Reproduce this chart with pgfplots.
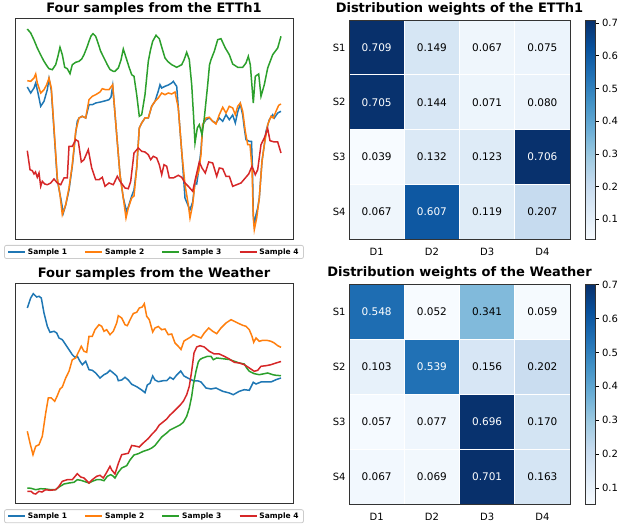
\documentclass[border=0pt]{standalone}
\usepackage{pgfplots}
\pgfplotsset{compat=1.18}
\usepackage{fontspec}
\setmainfont{DejaVu Sans}
\definecolor{c1}{HTML}{1F77B4}
\definecolor{c2}{HTML}{FF7F0E}
\definecolor{c3}{HTML}{2CA02C}
\definecolor{c4}{HTML}{D62728}
\pgfplotsset{
  colormap={Blues}{rgb255(0)=(247,251,255) rgb255(1)=(222,235,247) rgb255(2)=(198,219,239) rgb255(3)=(158,202,225) rgb255(4)=(107,174,214) rgb255(5)=(66,146,198) rgb255(6)=(33,113,181) rgb255(7)=(8,81,156) rgb255(8)=(8,48,107)},
  lineax/.style={scale only axis, width=278pt, xmin=15, xmax=293, y dir=reverse,
    xtick=\empty, ytick=\empty, axis line style={black!80, line width=0.8pt},
    title style={font=\fontsize{13}{15}\selectfont\bfseries, anchor=base, at={(0.5,1)}, yshift=-0.7pt},
    legend columns=4,
    legend style={at={(0.5,-0.027)}, anchor=north, draw=black!20, line width=0.8pt, rounded corners=2pt,
      font=\fontsize{7.5}{9}\selectfont\bfseries, inner xsep=3pt, inner ysep=1pt,
      /tikz/every even column/.append style={column sep=15.5pt}},
    legend image code/.code={\draw[##1, line width=1.5pt] (0pt,0pt) -- (17pt,0pt);},
    every axis plot/.append style={line width=1.5pt, mark=none}},
  heatax/.style={scale only axis, width=221pt, xmin=-0.5, xmax=3.5, ymin=-0.5, ymax=3.5, y dir=reverse,
    xtick={0,1,2,3}, xticklabels={D1,D2,D3,D4}, ytick={0,1,2,3}, yticklabels={S1,S2,S3,S4},
    major tick length=0pt, tick label style={font=\fontsize{10}{12}\selectfont},
    xticklabel style={yshift=-5pt},
    axis line style={black!80, line width=0.8pt}, axis on top,
    colormap name=Blues, colorbar,
    colorbar style={at={(parent axis.north east)}, anchor=north west, xshift=6.5pt, width=10pt,
      ytick={0.1,0.2,0.3,0.4,0.5,0.6,0.7}, ytick pos=right, tick align=outside, major tick length=3.5pt,
      tick style={black, line width=0.6pt}, axis line style={black!80, line width=0.8pt},
      yticklabel style={font=\fontsize{10}{12}\selectfont, /pgf/number format/.cd, fixed, fixed zerofill, precision=1, assume math mode=true}},
    title style={font=\fontsize{13}{15}\selectfont\bfseries, anchor=base, at={(0.5,1)}, yshift=1.3pt}},
  darktxt/.style={draw=none, mark=none, nodes near coords, point meta=explicit symbolic,
    every node near coord/.style={anchor=center, font=\fontsize{10.5}{12}\selectfont, text=black}},
  lighttxt/.style={darktxt, every node near coord/.style={anchor=center, font=\fontsize{10.5}{12}\selectfont, text=white}}
}
\begin{document}
\begin{tikzpicture}
\useasboundingbox (0,0) rectangle (622pt,529pt);
% ---------------- ETTh1 samples
\begin{axis}[lineax, at={(15pt,290pt)}, anchor=south west, height=220.7pt, ymin=18.3, ymax=239,
  title={Four samples from the ETTh1}]
\addplot[c1] coordinates {(27.3,87) (30.7,93) (34,88) (35.7,83) (38,93) (40.7,106.3) (44,101.3) (47.3,89.7) (49,78.7) (51.3,90) (54,130) (57.3,180) (60.7,198) (63.3,213) (65.7,205) (69,190) (72.3,166) (75.7,133) (77.3,121.3) (79,118) (82.3,116.3) (85.7,118) (89,104.7) (92.3,104.7) (95.7,103) (100.7,102) (105.7,100.7) (109,99.7) (111,97) (112.7,86) (116.7,134.7) (120,174.7) (123.3,198) (126.5,211) (128.3,207) (131.7,196) (134,190) (136.7,168) (139.3,128) (141.7,123) (145,118) (148.3,118) (151.7,106.3) (155,101.3) (158.3,91) (160,84.7) (161.7,88) (165,86.3) (168.3,85) (171.7,83) (173.3,81.3) (175,84) (176.7,86.3) (178.3,108) (181.7,151.3) (185,198) (188.3,206) (190,209.7) (192.7,202) (195,183) (196.7,184) (198.7,170) (201,150) (202.7,124.7) (206,119.7) (209.3,118) (212.7,121.3) (216,123) (219.3,118) (222.7,121.3) (226,114.7) (229.3,119.7) (232.7,115) (235.3,123) (237.7,112) (240.3,104) (242.7,115) (244.3,128) (246,139.7) (249.3,141.3) (251.5,141.3) (252.5,170) (253.3,214.7) (254.3,224.7) (256,214.7) (257.7,208) (259.3,198) (262,161.3) (264.3,145) (266,131.3) (269.3,119.7) (272.7,114.7) (274.3,118) (277.7,113) (281,111.3)};
\addlegendentry{Sample 1}
\addplot[c2] coordinates {(27.3,80.7) (30.7,81.3) (34,78) (35.7,74) (37.3,83) (40.7,93) (44,89.7) (46.7,84.7) (49,78) (51.3,88) (54,128) (57.3,178) (60,194.7) (62.3,214.7) (65.7,204.7) (69,188) (72.3,164.7) (75.7,131.3) (79,118) (82.3,116.3) (85.7,118) (89,99.7) (92.3,96.3) (95.7,94.7) (100,92) (102.3,88.7) (105.7,89.7) (109,89.7) (112.7,84.7) (116.7,134.7) (120,174.7) (123.3,198) (126,218) (128.3,208) (131.7,198) (134,196) (136.7,168) (139.3,128) (141.7,123) (145,118) (148.3,118) (151.7,106.3) (155,101.3) (158.3,98) (161.7,93) (165,94.7) (168.3,93) (171.7,94) (175,92) (178.3,108) (181.7,151.3) (185,184.7) (188.3,204.7) (190,218) (192.7,204.7) (195,181.3) (198.7,171.3) (201,154.7) (202.7,124.7) (206,118) (209.3,117.3) (212.7,121.3) (216,124) (219.3,114.7) (222.7,107.3) (226,113) (229.3,106.3) (232.7,108) (235.3,114.7) (237.7,106.3) (240.3,103) (242.7,111.3) (245.3,131.3) (247.7,144.7) (250,144.7) (252,168) (253.3,218) (254.3,229.7) (256.7,218) (259.3,198) (262,161.3) (264.3,144.7) (267.7,124.7) (271,116.3) (273.3,118) (276,111.3) (278.7,105.3) (281,104)};
\addlegendentry{Sample 2}
\addplot[c3] coordinates {(27.3,29) (30.7,33) (34,40) (37.3,48) (40.7,55) (44,61.3) (47,66) (49,68.7) (52.3,69.7) (55.7,64.7) (58,56) (60,47.3) (62.3,54.7) (64.7,67.3) (67.3,68.7) (70,73.7) (72.3,64.7) (75.7,62.3) (79,61.3) (81.7,59) (84,54.7) (86.7,48) (89,41.3) (91,36) (93,33.7) (95.7,36.3) (98,43) (100.7,51.3) (104,58) (107.3,64.7) (110,69.5) (113.3,71.3) (115,71.3) (118.3,68) (121,60) (123.3,49) (126.7,59.7) (129,67) (131.7,74.7) (134,76.3) (136.7,94.7) (139.3,116.3) (141.7,114.7) (145,94.7) (148.3,61.3) (150.5,50) (152.7,41.3) (156,35.3) (159.3,38.7) (162,48) (165,58) (168,61.7) (171.7,64.7) (176.7,67.3) (181.7,64.7) (184,60) (186.7,52.3) (189.3,59.7) (191.7,84.7) (193.5,115) (195,143) (197.3,128) (199.3,124.7) (202,134.7) (204.3,118) (207.7,84.7) (209.5,65) (211,59.7) (214.3,51.3) (217.7,39.7) (221,38.7) (225.3,48) (229.3,54.7) (232.7,64) (237.7,67.3) (242.7,67.3) (246,63) (248.3,56.3) (250.3,64.7) (253.3,103) (255.3,76.3) (258.7,74) (261,96.3) (264.3,84.7) (267.7,68) (272.7,54.7) (277.7,48) (281,36.3)};
\addlegendentry{Sample 3}
\addplot[c4] coordinates {(27.3,150.7) (30,169.7) (32.3,170.7) (34,174) (35.5,172) (37.3,177.3) (39,173) (40.7,186.3) (42.3,181.3) (44.7,184) (47.3,184.7) (50.7,183) (54,179) (57.3,183) (60.7,184.7) (64,178) (67.3,178) (69,146.3) (72.3,146.3) (75.7,139.7) (78.3,141.3) (81.3,162) (84,159.7) (88.3,149.7) (91.7,168) (95.7,179.7) (99,179.7) (102.3,177.3) (105,186.3) (109,183) (113.3,184.7) (117.3,176.3) (120,181.3) (125,188) (128.3,188.7) (130.7,181.3) (134,153) (138.3,148) (141.7,151.3) (145,152) (148.3,154.7) (150.7,159.7) (153.3,156.3) (156.7,158) (159.3,164.7) (161.7,174.7) (164,164.7) (166.7,166.3) (169.3,178) (173.3,178) (178.3,175.3) (181.7,177.3) (185,183) (188.3,186.3) (192.7,191.3) (196,176.3) (199.3,162) (202,168) (205.3,173) (208.7,162) (212.7,163) (216.7,176.3) (219.3,168) (222.7,168.7) (226,176.3) (229.3,176.3) (232.7,186.3) (236.7,184.7) (241,183) (245.3,178) (248.7,174) (252,166.3) (255.3,174.7) (257.7,169.7) (261,144.7) (264.3,138) (267.7,128.7) (270,140.7) (274.3,142) (277.7,142) (281,153)};
\addlegendentry{Sample 4}
\end{axis}
% ---------------- Weather samples
\begin{axis}[lineax, at={(15pt,25.7pt)}, anchor=south west, height=220pt, ymin=283.3, ymax=503.3,
  title={Four samples from the Weather}]
\addplot[c1] coordinates {(27.3,308) (30.7,298) (33.3,293.7) (36.7,297) (39,296.3) (41.3,298) (44,313) (47.3,326.3) (50,332.3) (54,331.3) (56.7,333) (59,338) (62.3,339.7) (65.7,344.7) (69,349.7) (72.3,354.7) (74.7,357) (77.3,356.3) (80,361.3) (82.3,364.7) (85.7,361.3) (89,369.7) (92.3,370.3) (95.7,373) (100,378) (104,374.7) (107.3,373) (110,370.3) (113.3,373) (116.7,376) (118.3,380.7) (121.7,380) (125,377.3) (128.3,380) (131.7,384.3) (136.7,386.7) (141.7,390) (145,392.7) (147.3,385) (150,383.3) (152.7,376) (155,380) (158.3,381.7) (163.3,380.7) (166.7,380.7) (170,377.3) (173.3,379.3) (176.7,375) (180.7,371) (184,376) (188.3,378.3) (193.3,380.7) (198.3,381) (201,382) (206,388) (211,389) (216,388) (222.7,391.3) (229.3,393) (233.3,394.7) (239.3,391.3) (244.3,389.7) (249.3,390.3) (253.3,382.3) (256,384) (261,382) (266,382) (271,382) (276,379.7) (281,378)};
\addlegendentry{Sample 1}
\addplot[c2] coordinates {(27.3,431.3) (30,443) (33,454.7) (35.7,446.3) (39,444.7) (42.3,436.3) (45.7,413) (48.3,398) (51.3,398) (54.7,401.3) (57.3,395.7) (60,389) (62.3,387) (65.7,378) (69,371.3) (72.3,359.7) (75.7,358) (78,353) (81.3,346.3) (84,351.3) (86.7,352.3) (89,336.3) (92.3,336.3) (95,329.7) (99,324.7) (101.7,326.3) (104,331.3) (106.7,329.7) (110,334.7) (113.3,331.3) (116.7,323) (118.3,315.7) (121.7,318) (125,324.7) (127.3,325.7) (130,320) (133.3,313.5) (136.7,312.3) (139.3,308) (142.3,307) (144.3,303.7) (146.7,316.3) (149.3,319.7) (152.7,332) (155,328) (158.3,326.5) (161.7,329.7) (165,329) (168.3,334.7) (171.7,334) (175,343) (178.3,346.3) (181,349.5) (184,341) (187.3,339) (190.7,337) (193.3,334.7) (196.7,336.3) (201,338) (204.3,333) (208.7,328) (212.7,331.3) (216.7,333.7) (221,328) (226,323) (231,319.7) (234.3,321.3) (237.7,323) (242.7,325.3) (246,326.3) (249.3,329.7) (252,336.3) (253.7,342.3) (256,338) (259.3,341.3) (262.7,340.3) (266.7,340.3) (271,341.3) (274.3,343) (277.7,345.7) (281,347.3)};
\addlegendentry{Sample 2}
\addplot[c3] coordinates {(27.3,488) (31,488.3) (35.7,489.7) (40.7,488.7) (45.7,489) (50.7,489.7) (55.7,489.7) (59,487) (64,484) (69,483) (74,482.3) (77.3,479.7) (80.7,480.3) (84,481.3) (89,483) (92.3,481.3) (96.7,479.7) (100.7,479.7) (104,480.7) (107.3,476.3) (110.7,474.7) (113,476) (115,478) (118.3,472.3) (121.7,468) (126.7,465.7) (130,460) (134,455) (138.3,453.7) (143.3,451.3) (148.3,449.7) (151.7,448) (155,445.5) (158.3,441.3) (161.7,437) (166.7,433) (170,430) (175,427.5) (180,425) (183.3,422.3) (186.7,416.3) (189.3,408) (191.7,396.3) (193.3,385) (196,371.3) (198.3,362) (200,359.5) (202.7,358) (207.7,356.3) (211,356.3) (213.3,359.7) (216.7,358) (222.7,358.7) (229.3,359.5) (234.3,361.3) (239.3,363) (244.3,364) (246.7,368) (249.3,371.3) (254.3,373.7) (259.3,374.7) (264.3,373.7) (267.7,373) (272.7,374.7) (276,375.3) (281,375.7)};
\addlegendentry{Sample 3}
\addplot[c4] coordinates {(27.3,491.3) (31,491.3) (33.5,493.5) (35.7,494) (39,491.3) (42,492) (45.7,489.7) (50,490.3) (55.7,489.7) (59,486.3) (62.3,481.3) (67.3,479.7) (72.3,479.7) (77.3,473.7) (80.7,477) (84,478) (89,483) (92.3,479.7) (96.7,476.3) (100,475.3) (103.3,478) (106.7,472.3) (110,466.3) (111.7,470) (115,474) (118.3,463.5) (121.7,454.7) (125,454) (128.3,453.3) (131.7,445.5) (135,446) (139.3,447) (143.3,443) (148.3,438.5) (151.7,434.5) (156,430) (159.3,425) (162.7,422.3) (166.7,419) (170,415) (173.3,412) (176.7,408.5) (180,405.3) (183.3,401.3) (186.7,394.7) (189.3,386.3) (191.7,371) (194,353) (196.7,347) (200,345.7) (204.3,347) (209.3,351.3) (214.3,354) (219.3,354) (224.3,356.3) (229.3,359) (234.3,362.3) (239.3,363) (244.3,364.7) (249.3,368) (254.3,371.3) (257.7,370.3) (261,366.3) (266,365.7) (271,364.7) (276,363) (281,361.5)};
\addlegendentry{Sample 4}
\end{axis}
% ---------------- ETTh1 heatmap
\begin{axis}[heatax, at={(349pt,289.7pt)}, anchor=south west, height=219.3pt,
  point meta min=0.039, point meta max=0.709, title={Distribution weights of the ETTh1}]
\addplot[matrix plot*, shader=faceted, faceted color=white, line width=0.8pt, mesh/cols=4, point meta=explicit] table[meta=z] {
x y z
0 0 0.709
1 0 0.149
2 0 0.067
3 0 0.075
0 1 0.705
1 1 0.144
2 1 0.071
3 1 0.080
0 2 0.039
1 2 0.132
2 2 0.123
3 2 0.706
0 3 0.067
1 3 0.607
2 3 0.119
3 3 0.207
};
\addplot[darktxt] table[meta=t] {
x y t
1 0 0.149
2 0 0.067
3 0 0.075
1 1 0.144
2 1 0.071
3 1 0.080
0 2 0.039
1 2 0.132
2 2 0.123
0 3 0.067
2 3 0.119
3 3 0.207
};
\addplot[lighttxt] table[meta=t] {
x y t
0 0 0.709
0 1 0.705
3 2 0.706
1 3 0.607
};
\end{axis}
% ---------------- Weather heatmap
\begin{axis}[heatax, at={(349pt,24.7pt)}, anchor=south west, height=220pt,
  point meta min=0.052, point meta max=0.701, title={Distribution weights of the Weather}]
\addplot[matrix plot*, shader=faceted, faceted color=white, line width=0.8pt, mesh/cols=4, point meta=explicit] table[meta=z] {
x y z
0 0 0.548
1 0 0.052
2 0 0.341
3 0 0.059
0 1 0.103
1 1 0.539
2 1 0.156
3 1 0.202
0 2 0.057
1 2 0.077
2 2 0.696
3 2 0.170
0 3 0.067
1 3 0.069
2 3 0.701
3 3 0.163
};
\addplot[darktxt] table[meta=t] {
x y t
1 0 0.052
2 0 0.341
3 0 0.059
0 1 0.103
2 1 0.156
3 1 0.202
0 2 0.057
1 2 0.077
3 2 0.170
0 3 0.067
1 3 0.069
3 3 0.163
};
\addplot[lighttxt] table[meta=t] {
x y t
0 0 0.548
1 1 0.539
2 2 0.696
2 3 0.701
};
\end{axis}
\end{tikzpicture}
\end{document}
